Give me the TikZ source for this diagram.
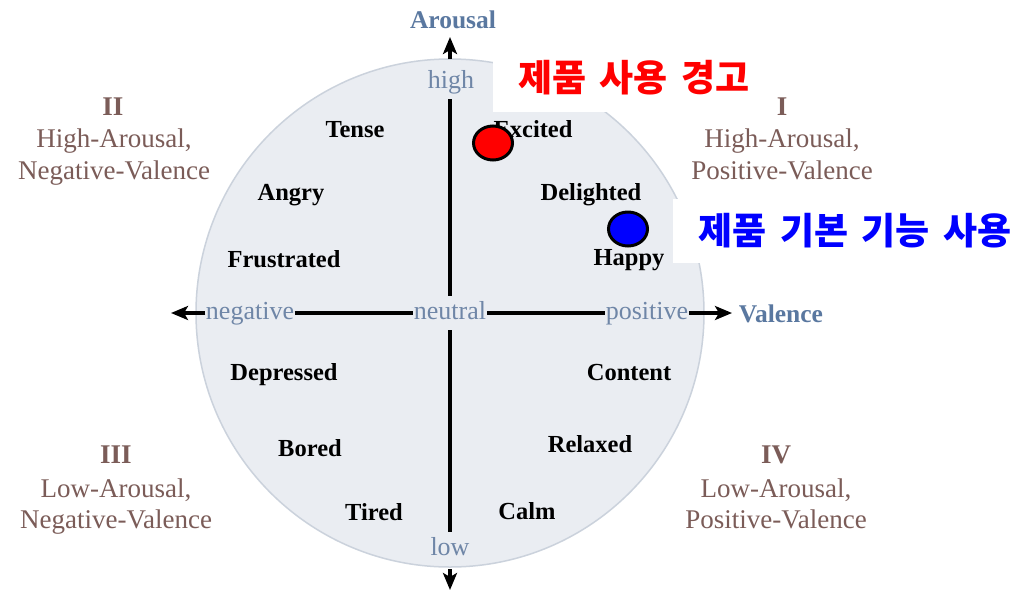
\documentclass[tikz,border=0pt]{standalone}
\usepackage{fontspec}
\setmainfont{Liberation Serif}
\newfontfamily\krfont[WordSpace=1.6]{Noto Sans CJK KR}
\usetikzlibrary{arrows.meta,shapes.geometric}
\definecolor{axcol}{HTML}{6F86A7}
\definecolor{axtitlecol}{HTML}{5A78A0}
\definecolor{quadcol}{HTML}{7B5C58}
\definecolor{circfill}{HTML}{EAEDF2}
\definecolor{circline}{HTML}{CBD2DC}
\definecolor{krred}{HTML}{FF0000}
\definecolor{krblue}{HTML}{0000FF}
\begin{document}
\begin{tikzpicture}[x=1pt,y=-1pt,
  emo/.style={font=\fontsize{24.5}{28}\selectfont\bfseries, text=black, inner sep=0pt, anchor=base},
  axlab/.style={font=\fontsize{26}{30}\selectfont, text=axcol, inner xsep=0.5pt, inner ysep=5pt, text height=18pt, text depth=6pt},
  axtitle/.style={font=\fontsize{25.5}{30}\selectfont\bfseries, text=axtitlecol, inner sep=0pt, anchor=base},
  quadtext/.style={font=\fontsize{27}{32}\selectfont, text=quadcol, inner sep=0pt, anchor=base},
  quadnum/.style={quadtext, font=\fontsize{27}{32}\selectfont\bfseries},
  axisline/.style={line width=3.2pt, draw=black},
  tipline/.style={axisline, -{Stealth[length=17pt,width=14pt,inset=4pt]}},
  dot/.style={ellipse, draw=black, line width=3pt, minimum width=39pt, minimum height=34pt, inner sep=0pt},
  whitebox/.style={fill=white, draw=none},
  krtext/.style={font=\krfont\bfseries\fontsize{37}{42}\selectfont, inner sep=0pt}
]
\useasboundingbox (0,0) rectangle (1021,590);
\fill[white] (0,0) rectangle (1021,590);

% circle
\node[circle, fill=circfill, draw=circline, line width=1.5pt, minimum size=508pt, inner sep=0pt] (disk) at (450,313) {};

% axis labels
\node[axlab] (high) at (451,82) {high};
\node[axlab] (neutral) at (450,313) {neutral};
\node[axlab] (low) at (450,549) {low};
\node[axlab] (negative) at (250,313) {negative};
\node[axlab] (positive) at (647,313) {positive};
\coordinate (toptip) at (450,37);
\coordinate (topstart) at (450,59);
\coordinate (botstart) at (450,569);
\coordinate (bottip) at (450,590);
\coordinate (lefttip) at (171,313);
\coordinate (righttip) at (732,313);

\draw[tipline] (topstart) -- (toptip);
\draw[axisline] (high.south -| neutral) -- (neutral.north);
\draw[axisline] (neutral.south) -- (low.north);
\draw[tipline] (botstart) -- (bottip);
\draw[tipline] (negative.west) -- (lefttip);
\draw[axisline] (negative.east) -- (neutral.west);
\draw[axisline] (neutral.east) -- (positive.west);
\draw[tipline] (positive.east) -- (righttip);

\node[axtitle] (arousal) at (453,28) {Arousal};
\node[axtitle] (valence) at (781,322) {Valence};

% emotions
\node[emo] (tense) at (355,137) {Tense};
\node[emo] (excited) at (533,137) {Excited};
\node[emo] (angry) at (291,200) {Angry};
\node[emo] (delighted) at (591,200) {Delighted};
\node[emo] (frustrated) at (284,267) {Frustrated};
\node[emo] (happy) at (629,265) {Happy};
\node[emo] (depressed) at (284,380) {Depressed};
\node[emo] (content) at (629,380) {Content};
\node[emo] (bored) at (310,456) {Bored};
\node[emo] (relaxed) at (590,452) {Relaxed};
\node[emo] (tired) at (374,520) {Tired};
\node[emo] (calm) at (527,519) {Calm};

% quadrants
\node[quadnum] (q2n) at (113,115) {II};
\node[quadtext] (q2a) at (114,147) {High-Arousal,};
\node[quadtext] (q2b) at (114,179) {Negative-Valence};
\node[quadnum] (q1n) at (782,115) {I};
\node[quadtext] (q1a) at (782,147) {High-Arousal,};
\node[quadtext] (q1b) at (782,179) {Positive-Valence};
\node[quadnum] (q3n) at (116,463) {III};
\node[quadtext] (q3a) at (116,497) {Low-Arousal,};
\node[quadtext] (q3b) at (116,528) {Negative-Valence};
\node[quadnum] (q4n) at (776,463) {IV};
\node[quadtext] (q4a) at (776,497) {Low-Arousal,};
\node[quadtext] (q4b) at (776,528) {Positive-Valence};

% overlay boxes and Korean labels
\fill[whitebox] (493,48) rectangle (775,112);
\fill[whitebox] (673,199) rectangle (1021,263);
\node[krtext, text=krred] (warn) at (634,78) {제품 사용 경고};
\node[krtext, text=krblue] (basic) at (855,231) {제품 기본 기능 사용};

% dots
\node[dot, fill=red] (reddot) at (493,143) {};
\node[dot, fill=blue] (bluedot) at (628,229) {};
\end{tikzpicture}
\end{document}
